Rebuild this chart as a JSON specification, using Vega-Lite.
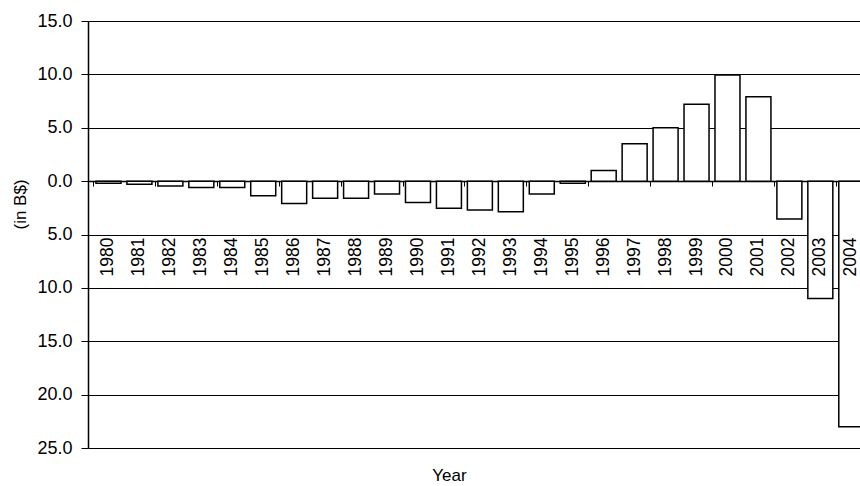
{
  "$schema": "https://vega.github.io/schema/vega-lite/v6.json",
  "width": 772,
  "height": 427,
  "autosize": {"type": "none"},
  "padding": {"left": 88, "top": 21, "right": 0, "bottom": 38},
  "background": "white",
  "config": {
    "view": {"stroke": null},
    "font": "Liberation Sans",
    "axis": {"labelFont": "Liberation Sans", "titleFont": "Liberation Sans", "labelColor": "black", "titleColor": "black", "titleFontWeight": "normal"}
  },
  "data": {
    "values": [
      {"year": 1980, "value": -0.2},
      {"year": 1981, "value": -0.3},
      {"year": 1982, "value": -0.45},
      {"year": 1983, "value": -0.6},
      {"year": 1984, "value": -0.6},
      {"year": 1985, "value": -1.37},
      {"year": 1986, "value": -2.1},
      {"year": 1987, "value": -1.6},
      {"year": 1988, "value": -1.6},
      {"year": 1989, "value": -1.2},
      {"year": 1990, "value": -2.0},
      {"year": 1991, "value": -2.55},
      {"year": 1992, "value": -2.7},
      {"year": 1993, "value": -2.87},
      {"year": 1994, "value": -1.2},
      {"year": 1995, "value": -0.2},
      {"year": 1996, "value": 1.0},
      {"year": 1997, "value": 3.5},
      {"year": 1998, "value": 5.0},
      {"year": 1999, "value": 7.2},
      {"year": 2000, "value": 9.95},
      {"year": 2001, "value": 7.9},
      {"year": 2002, "value": -3.55},
      {"year": 2003, "value": -11.0},
      {"year": 2004, "value": -23.0}
    ]
  },
  "layer": [
    {
      "mark": {"type": "bar", "fill": "white", "stroke": "black", "strokeWidth": 1.5, "size": 25, "clip": true},
      "encoding": {
        "x": {
          "field": "year",
          "type": "quantitative",
          "scale": {"domain": [1979.5, 2004.12], "nice": false, "zero": false},
          "axis": {
            "values": [1979.5, 1980.5, 1981.5, 1982.5, 1983.5, 1984.5, 1985.5, 1986.5, 1987.5, 1988.5, 1989.5, 1990.5, 1991.5, 1992.5, 1993.5, 1994.5, 1995.5, 1996.5, 1997.5, 1998.5, 1999.5, 2000.5, 2001.5, 2002.5, 2003.5],
            "labels": false,
            "grid": false,
            "offset": -267,
            "domainColor": "black",
            "domainWidth": 1.5,
            "tickColor": "black",
            "tickSize": 5,
            "tickWidth": 1,
            "title": "Year",
            "titleFontSize": 17,
            "titleX": 361,
            "titleY": 286,
            "titleAnchor": "middle"
          }
        },
        "y": {
          "field": "value",
          "type": "quantitative",
          "scale": {"domain": [-25, 15], "nice": false},
          "axis": {
            "values": [-25, -20, -15, -10, -5, 0, 5, 10, 15],
            "labelExpr": "format(abs(datum.value), '.1f')",
            "labelFontSize": 18,
            "labelPadding": 9,
            "tickSize": 7,
            "tickColor": "black",
            "domainColor": "black",
            "domainWidth": 1.5,
            "grid": true,
            "gridColor": "black",
            "gridOpacity": 1,
            "gridWidth": 1.2,
            "title": "(in B$)",
            "titleFontSize": 17,
            "titleX": -68,
            "titleY": 183,
            "titleAngle": 270,
            "titleAnchor": "middle",
            "titleBaseline": "middle"
          }
        }
      }
    },
    {
      "mark": {"type": "text", "angle": 270, "align": "right", "baseline": "middle", "dx": -3, "fontSize": 17.5, "font": "Liberation Sans", "color": "black", "clip": true},
      "encoding": {
        "x": {"field": "year", "type": "quantitative"},
        "y": {"datum": -5},
        "text": {"field": "year", "type": "nominal"}
      }
    }
  ]
}
